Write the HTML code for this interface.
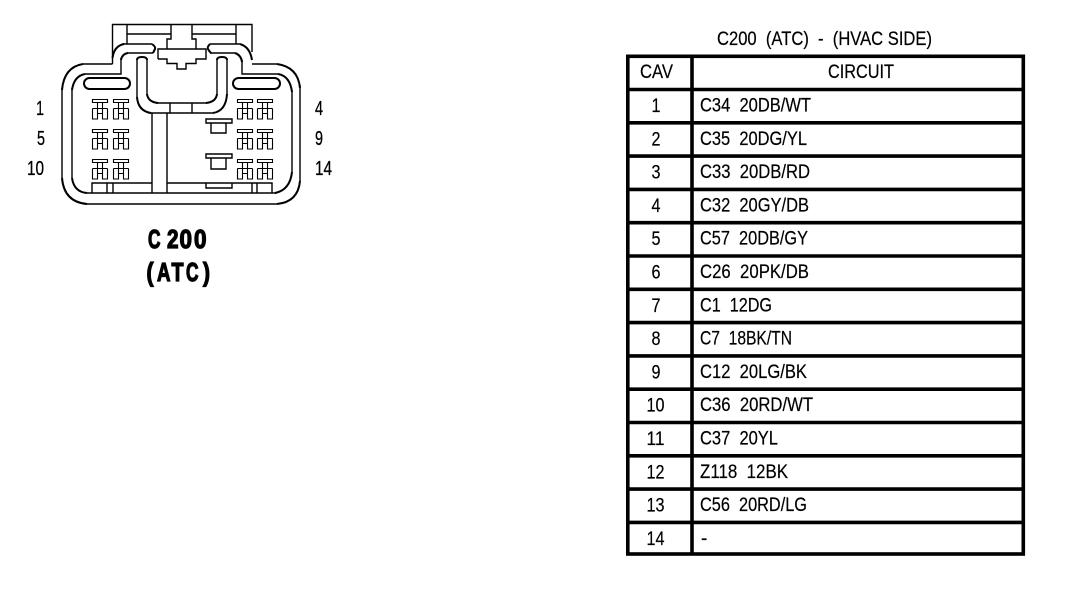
<!DOCTYPE html>
<html>
<head>
<meta charset="utf-8">
<style>
html,body{margin:0;padding:0;background:#fff;width:1072px;height:596px;overflow:hidden}
svg{display:block}
text{font-family:"Liberation Sans",sans-serif;fill:#000;white-space:pre}
</style>
</head>
<body>
<svg width="1072" height="596" viewBox="0 0 1072 596" xmlns="http://www.w3.org/2000/svg">
<defs>
<g id="t" fill="none" stroke="#000" stroke-width="1.1">
<path d="M0.5 0.500H15.5V3.500H0.5ZM0.5 9.500H15.5M0.5 9.500V20H5.500V3.500M15.5 9.500V20H10.500V3.500M5.500 14.500H10.500"/>
</g>
</defs>
<rect width="1072" height="596" fill="#fff"/>

<!-- connector -->
<g fill="none" stroke="#000" stroke-width="1.4">
<!-- top box -->
<path d="M112.500 64V24.500H252V52"/>
<path d="M127 24.500V43.500M236 24.500V43.500M127 34H171M192 34H236M171 24.500V39H167V49M192 24.500V39H196V49"/>
<!-- latch -->
<path d="M158 59V49H206V59H196V63.500H186V69H177V63.500H167V59H158"/>
<!-- lower lines -->
<path d="M87 193H277M87 204H277"/>
<path d="M92 193V183H152M107 183V193M113 183V193M167 183H272V193M252 183V193M257 183V193"/>
<path d="M152 113V193M167 113V193"/>
<path d="M206 183.500V188H232V183.500"/>
<path d="M170 103V113M192 103V113"/>
<!-- T shapes -->
<path d="M206 119H232V123H206ZM211 123V133H226V123"/>
<path d="M206 154H232V158H206ZM211 158V169H226V158"/>
<!-- straight sections -->
<path d="M83 64H112.500M252 64H277M85 74H121V58M242 60V74H278M127 53H153M122 44H152M210 44H240M210 53H235"/>
<path d="M62 88V178M72 88V178M300 85V182M292 90V173"/>
<path d="M147 60V95M137 60V98M217 60V95M227 60V95M157 103H207M150 113H213"/>
</g>
<g fill="none" stroke="#000" stroke-width="2">
<path d="M112.500 58Q114 46 124 44"/>
<path d="M121 60Q122 54 128 53"/>
<path d="M152 44Q156 47 155 49T153 53"/>
<path d="M210 44Q207 47 208 49T211 53"/>
<path d="M240 44Q250 47 252 60"/>
<path d="M235 53Q241 55 242 62"/>
<path d="M83 64Q64 67 62 90"/>
<path d="M85 74Q74 76 72 90"/>
<path d="M277 64Q298 67 300 88"/>
<path d="M278 74Q290 76 292 92"/>
<path d="M62 178Q64 202 87 204"/>
<path d="M72 178Q74 192 87 193"/>
<path d="M300 181Q298 202 277 204"/>
<path d="M292 172Q290 190 275 193"/>
<path d="M137 60Q137 57 142 57T147 60"/>
<path d="M217 60Q217 57 222 57T227 60"/>
<path d="M147 94Q148 102 158 103"/>
<path d="M137 97Q138 111 151 113"/>
<path d="M206 103Q216 102 217 94"/>
<path d="M213 113Q226 111 227 94"/>
<rect x="84" y="78" width="46" height="11" rx="5.500"/>
<rect x="233" y="78" width="47" height="11" rx="5.500"/>
</g>
<use href="#t" x="92" y="99"/><use href="#t" x="113" y="99"/>
<use href="#t" x="92" y="129"/><use href="#t" x="113" y="129"/>
<use href="#t" x="92" y="159"/><use href="#t" x="113" y="159"/>
<use href="#t" x="237" y="99"/><use href="#t" x="257" y="99"/>
<use href="#t" x="237" y="129"/><use href="#t" x="257" y="129"/>
<use href="#t" x="237" y="159"/><use href="#t" x="257" y="159"/>

<!-- cavity labels -->
<g font-size="20" stroke="#000" stroke-width="0.3">
<text x="36" y="115" textLength="8" lengthAdjust="spacingAndGlyphs">1</text>
<text x="37" y="145" textLength="8" lengthAdjust="spacingAndGlyphs">5</text>
<text x="27" y="175" textLength="17" lengthAdjust="spacingAndGlyphs">10</text>
<text x="315" y="115" textLength="8" lengthAdjust="spacingAndGlyphs">4</text>
<text x="315" y="145" textLength="8" lengthAdjust="spacingAndGlyphs">9</text>
<text x="315" y="175" textLength="17" lengthAdjust="spacingAndGlyphs">14</text>
</g>
<g font-size="26" font-weight="bold" stroke="#000" stroke-width="1.300">
<text x="148" y="248" textLength="12.500" lengthAdjust="spacingAndGlyphs">C</text>
<text x="167" y="248" textLength="11.500" lengthAdjust="spacingAndGlyphs">2</text>
<text x="179.500" y="248" textLength="12.500" lengthAdjust="spacingAndGlyphs">0</text>
<text x="194" y="248" textLength="12.500" lengthAdjust="spacingAndGlyphs">0</text>
<text x="146.500" y="281" textLength="7" lengthAdjust="spacingAndGlyphs">(</text>
<text x="157" y="281" textLength="13.500" lengthAdjust="spacingAndGlyphs">A</text>
<text x="171.500" y="281" textLength="12" lengthAdjust="spacingAndGlyphs">T</text>
<text x="186" y="281" textLength="12.500" lengthAdjust="spacingAndGlyphs">C</text>
<text x="203" y="281" textLength="7" lengthAdjust="spacingAndGlyphs">)</text>
</g>

<!-- table title -->
<text x="717" y="45" font-size="19" stroke="#000" stroke-width="0.2" textLength="215" lengthAdjust="spacingAndGlyphs" xml:space="preserve">C200  (ATC)  -  (HVAC SIDE)</text>

<!-- table -->
<g fill="none" stroke="#000" stroke-width="3.600">
<rect x="627.800" y="56.300" width="395.500" height="497.700"/>
<path d="M692 56V554"/>
<path d="M628 89.500H1023M628 122.800H1023M628 156.100H1023M628 189.400H1023M628 222.700H1023M628 256H1023M628 289.300H1023M628 322.600H1023M628 355.900H1023M628 389.200H1023M628 422.500H1023M628 455.800H1023M628 489.100H1023M628 522.400H1023"/>
</g>

<g font-size="19" stroke="#000" stroke-width="0.2">
<text x="640" y="78" textLength="33" lengthAdjust="spacingAndGlyphs">CAV</text>
<text x="828" y="78" textLength="66" lengthAdjust="spacingAndGlyphs">CIRCUIT</text>
<text x="651.500" y="112" textLength="9" lengthAdjust="spacingAndGlyphs">1</text>
<text x="651.500" y="145.300" textLength="9" lengthAdjust="spacingAndGlyphs">2</text>
<text x="651.500" y="178.600" textLength="9" lengthAdjust="spacingAndGlyphs">3</text>
<text x="651.500" y="211.900" textLength="9" lengthAdjust="spacingAndGlyphs">4</text>
<text x="651.500" y="245.200" textLength="9" lengthAdjust="spacingAndGlyphs">5</text>
<text x="651.500" y="278.500" textLength="9" lengthAdjust="spacingAndGlyphs">6</text>
<text x="651.500" y="311.800" textLength="9" lengthAdjust="spacingAndGlyphs">7</text>
<text x="651.500" y="345.100" textLength="9" lengthAdjust="spacingAndGlyphs">8</text>
<text x="651.500" y="378.400" textLength="9" lengthAdjust="spacingAndGlyphs">9</text>
<text x="646.500" y="411.700" textLength="18" lengthAdjust="spacingAndGlyphs">10</text>
<text x="646.500" y="445" textLength="18" lengthAdjust="spacingAndGlyphs">11</text>
<text x="646.500" y="478.300" textLength="18" lengthAdjust="spacingAndGlyphs">12</text>
<text x="646.500" y="511.600" textLength="18" lengthAdjust="spacingAndGlyphs">13</text>
<text x="646.500" y="544.900" textLength="18" lengthAdjust="spacingAndGlyphs">14</text>
<text x="700" y="111.500" textLength="111" lengthAdjust="spacingAndGlyphs" xml:space="preserve">C34  20DB/WT</text>
<text x="700" y="144.800" textLength="107" lengthAdjust="spacingAndGlyphs" xml:space="preserve">C35  20DG/YL</text>
<text x="700" y="178.100" textLength="110" lengthAdjust="spacingAndGlyphs" xml:space="preserve">C33  20DB/RD</text>
<text x="700" y="211.400" textLength="109" lengthAdjust="spacingAndGlyphs" xml:space="preserve">C32  20GY/DB</text>
<text x="700" y="244.700" textLength="108" lengthAdjust="spacingAndGlyphs" xml:space="preserve">C57  20DB/GY</text>
<text x="700" y="278" textLength="109" lengthAdjust="spacingAndGlyphs" xml:space="preserve">C26  20PK/DB</text>
<text x="700" y="311.300" textLength="72" lengthAdjust="spacingAndGlyphs" xml:space="preserve">C1  12DG</text>
<text x="700" y="344.600" textLength="92" lengthAdjust="spacingAndGlyphs" xml:space="preserve">C7  18BK/TN</text>
<text x="700" y="377.900" textLength="107" lengthAdjust="spacingAndGlyphs" xml:space="preserve">C12  20LG/BK</text>
<text x="700" y="411.200" textLength="113" lengthAdjust="spacingAndGlyphs" xml:space="preserve">C36  20RD/WT</text>
<text x="700" y="444.500" textLength="78" lengthAdjust="spacingAndGlyphs" xml:space="preserve">C37  20YL</text>
<text x="700" y="477.800" textLength="88" lengthAdjust="spacingAndGlyphs" xml:space="preserve">Z118  12BK</text>
<text x="700" y="511.100" textLength="107" lengthAdjust="spacingAndGlyphs" xml:space="preserve">C56  20RD/LG</text>
<text x="701" y="544.400">-</text>
</g>
</svg>
</body>
</html>
